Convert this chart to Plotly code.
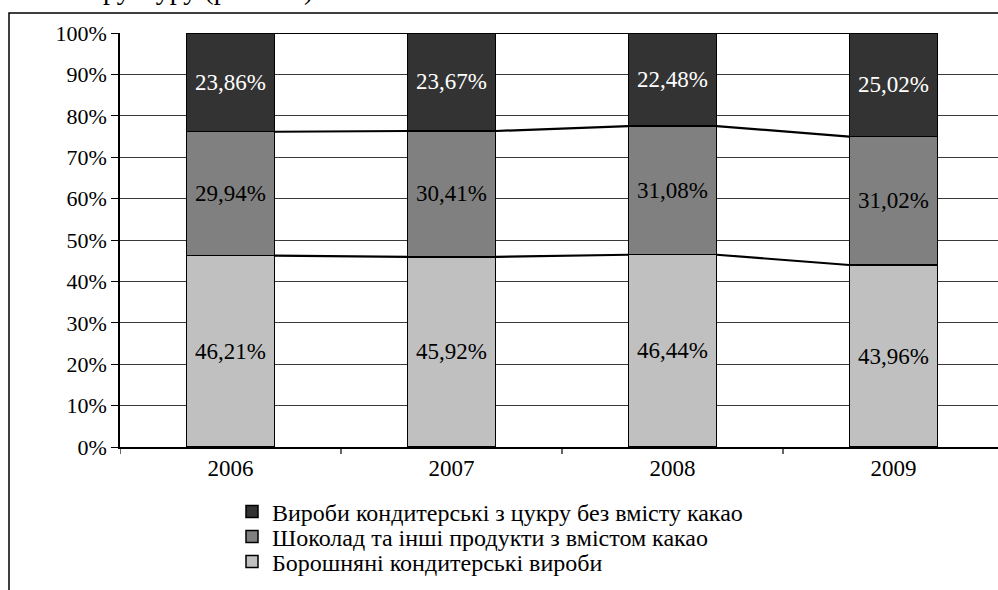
import plotly.graph_objects as go

years = ["2006", "2007", "2008", "2009"]
flour = [46.21, 45.92, 46.44, 43.96]       # Борошняні кондитерські вироби
choco = [29.94, 30.41, 31.08, 31.02]       # Шоколад та інші продукти з вмістом какао
sugar = [23.86, 23.67, 22.48, 25.02]       # Вироби кондитерські з цукру без вмісту какао
names = ["Борошняні кондитерські вироби",
         "Шоколад та інші продукти з вмістом какао",
         "Вироби кондитерські з цукру без вмісту какао"]
colors = ["#C0C0C0", "#808080", "#333333"]
text_colors = ["#000000", "#000000", "#FFFFFF"]
y_ticks = [0, 10, 20, 30, 40, 50, 60, 70, 80, 90, 100]
y_tick_text = [f"{v}%" for v in y_ticks]

FONT = "Liberation Serif"
W, H = 998, 590
L, T, B = 120, 33, 143
PW = W - L
PH = H - T - B
CAT = 221.0
BAR_W = 0.40

def fmt(v):
    return f"{v:.2f}%".replace(".", ",")

def px_to_xpaper(px):
    return (px - L) / PW

def py_to_ypaper(py):
    return (T + PH - py) / PH

fig = go.Figure()
series = [flour, choco, sugar]
xidx = list(range(len(years)))
legend_ids = ["legend3", "legend2", "legend"]   # bottom series listed last
legend_y = [562, 537, 512]
for s, name, col, tc, lg in zip(series, names, colors, text_colors, legend_ids):
    fig.add_trace(go.Bar(
        x=xidx, y=s, name=name, width=BAR_W, legend=lg,
        marker=dict(color=col, line=dict(color="#000000", width=1.5)),
        text=[fmt(v) for v in s], textposition="inside", insidetextanchor="middle",
        textangle=0, constraintext="none",
        textfont=dict(family=FONT, size=23, color=tc),
        hoverinfo="skip",
    ))

# series lines between bars
cum = [0.0] * len(years)
for s in series:
    cum = [c + v for c, v in zip(cum, s)]
    xs, ys = [], []
    for i in range(len(years) - 1):
        xs += [i + BAR_W / 2, i + 1 - BAR_W / 2, None]
        ys += [cum[i], cum[i + 1], None]
    fig.add_trace(go.Scatter(x=xs, y=ys, mode="lines",
                             line=dict(color="#000000", width=2.2),
                             showlegend=False, hoverinfo="skip"))

x_end = -0.5 + PW / CAT

legend_common = dict(xanchor="left", yanchor="middle", orientation="v",
                     font=dict(family=FONT, size=24, color="#000000"),
                     itemwidth=30, bgcolor="rgba(0,0,0,0)")
legends = {}
for lg, py in zip(legend_ids, legend_y):
    legends[lg] = dict(x=px_to_xpaper(232), y=py_to_ypaper(py), **legend_common)

fig.update_layout(
    width=W, height=H,
    margin=dict(l=L, r=0, t=T, b=B, autoexpand=False),
    paper_bgcolor="white", plot_bgcolor="white",
    barmode="stack", bargap=0.6,
    font=dict(family=FONT, size=22, color="#000000"),
    showlegend=True,
    xaxis=dict(
        type="linear", range=[-0.5, x_end],
        tickmode="array", tickvals=xidx, ticktext=years,
        ticks="", showgrid=False, zeroline=False,
        showline=True, linecolor="#000000", linewidth=1.5,
        tickfont=dict(family=FONT, size=23),
        fixedrange=True,
    ),
    yaxis=dict(
        range=[0, 100], tickmode="array", tickvals=y_ticks, ticktext=y_tick_text,
        ticks="outside", ticklen=7, tickcolor="#000000", tickwidth=1,
        showgrid=True, gridcolor="#3a3a3a", gridwidth=1,
        showline=True, linecolor="#000000", linewidth=1.5,
        zeroline=False, tickfont=dict(family=FONT, size=22),
        fixedrange=True,
    ),
    **legends,
)

# x-axis tick marks at category boundaries
shapes = []
for b in [-0.5, 0.5, 1.5, 2.5]:
    shapes.append(dict(type="line", xref="x", yref="paper",
                       x0=b, x1=b, y0=0, y1=py_to_ypaper(T + PH + 7),
                       line=dict(color="#000000", width=1.2)))
# outer frame of the chart object (extends past the right and bottom edges)
shapes.append(dict(type="rect", xref="paper", yref="paper",
                   x0=px_to_xpaper(9), x1=px_to_xpaper(1150),
                   y0=py_to_ypaper(750), y1=py_to_ypaper(13),
                   line=dict(color="#000000", width=1.5), fillcolor="rgba(0,0,0,0)",
                   layer="below"))
fig.update_layout(shapes=shapes)

# cut-off caption line above the chart
fig.add_annotation(xref="paper", yref="paper",
                   x=px_to_xpaper(315), y=py_to_ypaper(-10),
                   xanchor="right", yanchor="middle", showarrow=False,
                   text="структуру (рис. 2.1)",
                   font=dict(family=FONT, size=28, color="#000000"))

fig.write_html("out.html", config={"displayModeBar": False})
